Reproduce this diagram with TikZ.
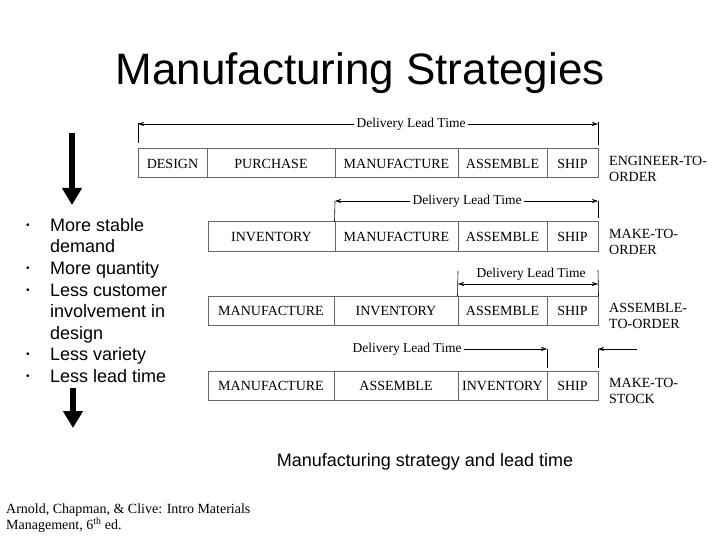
\documentclass[tikz,border=0pt]{standalone}
\usepackage{fontspec}
\setmainfont{Liberation Serif}
\setsansfont{Liberation Sans}
\usepackage{tikz}
\usetikzlibrary{arrows.meta,positioning,calc}

\begin{document}
\begin{tikzpicture}[
    x=1pt, y=-1pt,
    cell/.style={draw=black!60, line width=1pt, minimum height=29pt, inner sep=0pt, font=\fontsize{14}{15}\selectfont},
    lead/.style={font=\fontsize{13.5}{15}\selectfont, inner sep=2pt},
    strat/.style={anchor=west, align=left, inner sep=0pt, font=\fontsize{14}{16}\selectfont},
    arr/.style={-{Stealth[length=6pt, width=4pt]}, line width=0.6pt},
    tick/.style={line width=0.6pt},
    bigarr/.style={-{Triangle[length=17pt, width=19pt]}, line width=5.5pt}
]
\useasboundingbox (0,0) rectangle (720,540);

% title
\node[font=\sffamily\fontsize{44}{50}\selectfont, anchor=base] (title) at (360,85) {Manufacturing Strategies};

% engineer-to-order
\node[cell, minimum width=69pt]  (r1des) at (172.5,163.5) {DESIGN};
\node[cell, minimum width=128pt] (r1pur) at (271,163.5) {PURCHASE};
\node[cell, minimum width=123pt] (r1man) at (396.5,163.5) {MANUFACTURE};
\node[cell, minimum width=89pt]  (r1ass) at (502.5,163.5) {ASSEMBLE};
\node[cell, minimum width=51pt]  (r1shp) at (572.5,163.5) {SHIP};
\node[strat] (s1) at (609,169) {ENGINEER-TO-\\ORDER};

\node[lead] (lt1) at (411,124) {Delivery Lead Time};
\coordinate (l1a) at (138,124);
\coordinate (l1b) at (598,124);
\draw[tick] (138,123) -- (138,143);
\draw[tick] (598,122) -- (598,145);
\draw[arr] (lt1.west) -- (l1a);
\draw[arr] (lt1.east) -- (l1b);

% make-to-order
\node[cell, minimum width=127pt] (r2inv) at (271.5,236.5) {INVENTORY};
\node[cell, minimum width=123pt] (r2man) at (396.5,236.5) {MANUFACTURE};
\node[cell, minimum width=89pt]  (r2ass) at (502.5,236.5) {ASSEMBLE};
\node[cell, minimum width=51pt]  (r2shp) at (572.5,236.5) {SHIP};
\node[strat] (s2) at (609,242) {MAKE-TO-\\ORDER};

\node[lead] (lt2) at (467,201) {Delivery Lead Time};
\coordinate (l2a) at (335,201);
\coordinate (l2b) at (598,201);
\draw[tick] (l2a) -- (r2man.north west);
\draw[tick] (598,201) -- (598,218);
\draw[arr] (lt2.west) -- (l2a);
\draw[arr] (lt2.east) -- (l2b);

% assemble-to-order
\node[cell, minimum width=126pt] (r3man) at (271,311) {MANUFACTURE};
\node[cell, minimum width=124pt] (r3inv) at (396,311) {INVENTORY};
\node[cell, minimum width=89pt]  (r3ass) at (502.5,311) {ASSEMBLE};
\node[cell, minimum width=51pt]  (r3shp) at (572.5,311) {SHIP};
\node[strat] (s3) at (609,316) {ASSEMBLE-\\TO-ORDER};

\node[lead] (lt3) at (531,274) {Delivery Lead Time};
\coordinate (l3a) at (458,284);
\coordinate (l3b) at (598,284);
\draw[tick] (458,271) -- (r3ass.north west);
\draw[tick] (598,270) -- (r3shp.north east);
\draw[arr, {Stealth[length=6pt, width=4pt]}-{Stealth[length=6pt, width=4pt]}] (l3a) -- (l3b);

% make-to-stock
\node[cell, minimum width=126pt] (r4man) at (271,386) {MANUFACTURE};
\node[cell, minimum width=124pt] (r4ass) at (396,386) {ASSEMBLE};
\node[cell, minimum width=89pt]  (r4inv) at (502.5,386) {INVENTORY};
\node[cell, minimum width=51pt]  (r4shp) at (572.5,386) {SHIP};
\node[strat] (s4) at (609,391) {MAKE-TO-\\STOCK};

\node[lead] (lt4) at (407,349) {Delivery Lead Time};
\coordinate (l4a) at (547,349);
\coordinate (l4b) at (598,349);
\coordinate (l4c) at (637,349);
\draw[tick] (547,349) -- (547,368);
\draw[tick] (598,349) -- (598,368);
\draw[arr] (lt4.east) -- (l4a);
\draw[arr] (l4c) -- (l4b);

% trend list
\node[anchor=north west, align=left, inner sep=0pt, font=\sffamily\fontsize{18}{21.6}\selectfont] (trend) at (26,218)
  {\makebox[24pt][l]{\raisebox{3pt}{\fontsize{10}{10}\selectfont\textbullet}}More stable\\
   \hspace*{24pt}demand\\
   \makebox[24pt][l]{\raisebox{3pt}{\fontsize{10}{10}\selectfont\textbullet}}More quantity\\
   \makebox[24pt][l]{\raisebox{3pt}{\fontsize{10}{10}\selectfont\textbullet}}Less customer\\
   \hspace*{24pt}involvement in\\
   \hspace*{24pt}design\\
   \makebox[24pt][l]{\raisebox{3pt}{\fontsize{10}{10}\selectfont\textbullet}}Less variety\\
   \makebox[24pt][l]{\raisebox{3pt}{\fontsize{10}{10}\selectfont\textbullet}}Less lead time};
\coordinate (up1) at (72,133);
\coordinate (up2) at (73,388);
\draw[bigarr] (up1) -- (72,205);
\draw[bigarr] (up2) -- (73,428);

% caption and source
\node[font=\sffamily\fontsize{18}{21}\selectfont, anchor=base] (cap) at (425,466) {Manufacturing strategy and lead time};
\node[anchor=north west, align=left, inner sep=0pt, font=\fontsize{14}{15.5}\selectfont] (src) at (6,504)
  {Arnold, Chapman, \& Clive: Intro Materials\\Management, 6\textsuperscript{th} ed.};
\end{tikzpicture}
\end{document}
